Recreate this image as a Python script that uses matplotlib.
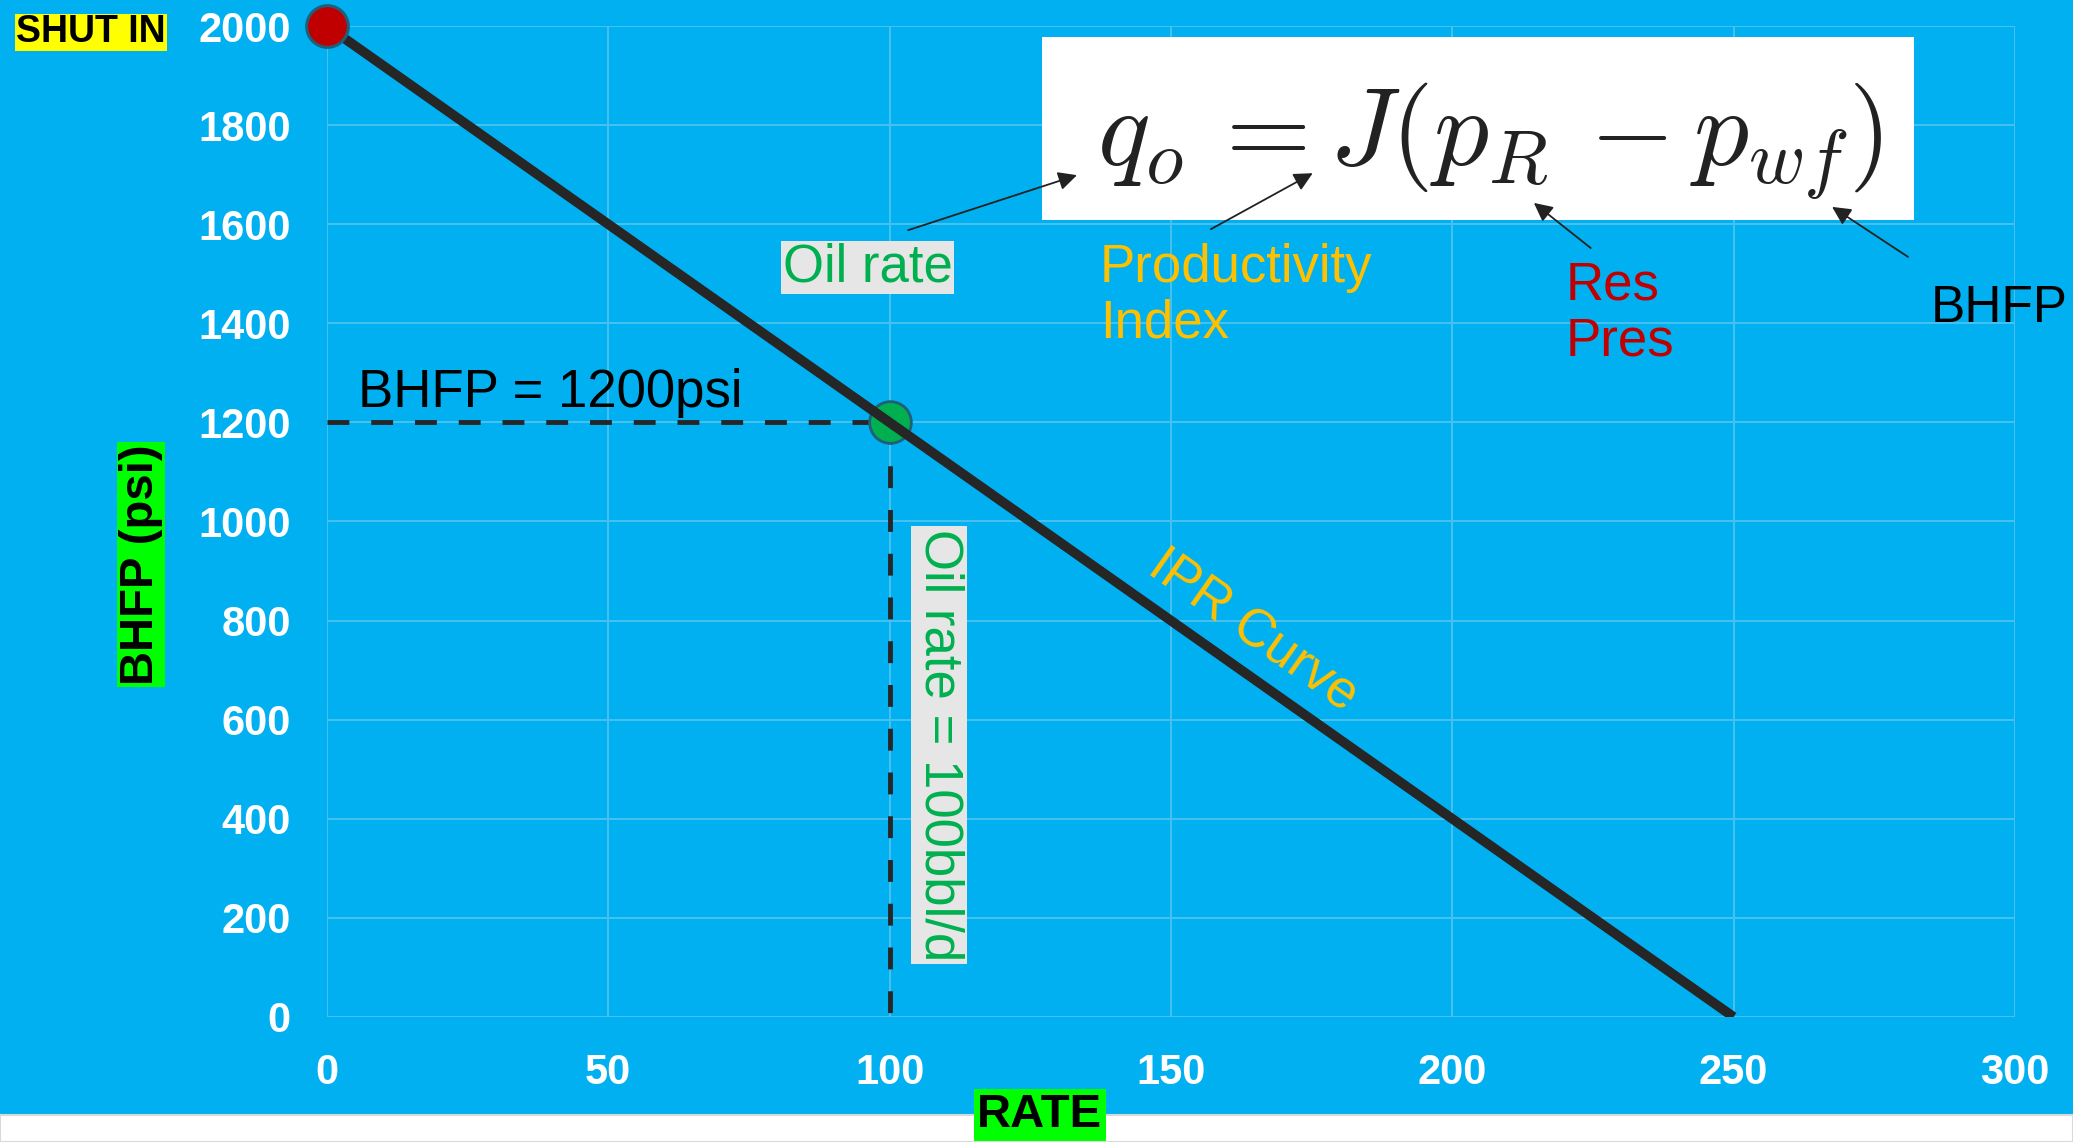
import numpy as np
import matplotlib
matplotlib.use('Agg')
import matplotlib.pyplot as plt
from matplotlib.patches import Rectangle

plt.rcParams['font.family'] = ['Liberation Sans', 'DejaVu Sans']
plt.rcParams['mathtext.fontset'] = 'cm'

# IPR straight line: shut-in pressure and absolute open flow
ipr_rate = [0, 250]
ipr_bhfp = [2000, 0]
# operating point
op_rate = 100
op_bhfp = 1200

xticks = [0, 50, 100, 150, 200, 250, 300]
yticks = [0, 200, 400, 600, 800, 1000, 1200, 1400, 1600, 1800, 2000]

bg = '#00B0F0'
grid_c = '#45C1F1'
line_c = '#262626'
green = '#00B050'
gold = '#FFC000'
red = '#C00000'

fig = plt.figure(figsize=(20.73, 11.42), dpi=100, facecolor=bg)
ax = fig.add_axes([0.1577, 0.1095, 0.9720 - 0.1577, 0.9772 - 0.1095])
ax.set_facecolor(bg)

# white strip along the bottom edge
fig.patches.append(Rectangle((0, 0), 1, 27/1142., transform=fig.transFigure,
                             facecolor='white', edgecolor='#D9D9D9', lw=1.5, zorder=-1))

ax.set_xlim(0, 300)
ax.set_ylim(0, 2000)
ax.set_xticks(xticks)
ax.set_yticks(yticks)
ax.grid(True, color=grid_c, lw=1.5)
ax.set_axisbelow(True)
for s in ax.spines.values():
    s.set_visible(False)
ax.tick_params(length=0, labelcolor='white', labelsize=30, pad=26)
for lab in ax.get_xticklabels() + ax.get_yticklabels():
    lab.set_fontweight('bold')

# dashed guides to the operating point
ax.plot([0, op_rate], [op_bhfp, op_bhfp], color=line_c, lw=3.5, dashes=[4.5, 4.5],
        dash_capstyle='butt', zorder=3)
ax.plot([op_rate, op_rate], [op_bhfp, 0], color=line_c, lw=3.5, dashes=[4.5, 4.5],
        dash_capstyle='butt', zorder=3)

ax.plot(op_rate, op_bhfp, 'o', ms=30, mfc=green, mec='#1F5F7A', mew=2, zorder=4)
ax.plot(ipr_rate, ipr_bhfp, color=line_c, lw=7, solid_capstyle='butt', zorder=5)
ax.plot(ipr_rate[0], ipr_bhfp[0], 'o', ms=30, mfc=red, mec='#1F5F7A', mew=2.2,
        zorder=6, clip_on=False)

# equation panel
ax.add_patch(Rectangle((127.1, 1608.5), 282.0 - 127.1, 1978 - 1608.5,
                       facecolor='white', edgecolor='none', zorder=7))
ax.text(206.7, 1768, r'$q_o\,=J(p_R\,-p_{wf})$', fontsize=79, color='#222222',
        ha='center', va='center', zorder=8)

# labels and callouts
ax.text(5.5, 1231, 'BHFP = 1200psi', fontsize=38, color='black', ha='left',
        va='baseline', zorder=8)
ax.text(96.1, 1512, 'Oil rate', fontsize=38, color=green, ha='center', va='center',
        bbox=dict(boxstyle='square,pad=0.03', fc='#E7E6E6', ec='none'), zorder=8)
ax.text(108.8, 549, 'Oil rate = 100bbl/d', fontsize=38, color=green, rotation=-90,
        ha='center', va='center',
        bbox=dict(boxstyle='square,pad=0.05', fc='#E7E6E6', ec='none'), zorder=8)
ax.text(164.6, 778, 'IPR Curve', fontsize=38, color=gold, rotation=-35.2,
        ha='center', va='center', rotation_mode='anchor', zorder=8)
ax.text(137.4, 1372, 'Productivity\nIndex', fontsize=38, color=gold, ha='left',
        va='baseline', linespacing=1.13, zorder=8)
ax.text(220.2, 1336, 'Res\nPres', fontsize=38, color=red, ha='left',
        va='baseline', linespacing=1.13, zorder=8)
ax.text(285.1, 1402, 'BHFP', fontsize=37, color='black', ha='left', va='baseline',
        zorder=8)

arrows = [((103.3, 1588), (133.3, 1699)),
          ((157.1, 1590), (175.2, 1703)),
          ((224.6, 1552), (214.5, 1643)),
          ((281.0, 1534), (267.5, 1635))]
for start, tip in arrows:
    ax.annotate('', xy=tip, xytext=start,
                arrowprops=dict(arrowstyle='-|>', color='#222222', lw=1.3,
                                mutation_scale=28, shrinkA=0, shrinkB=0),
                zorder=9, annotation_clip=False)

ax.set_ylabel('BHFP (psi)', fontsize=34, fontweight='bold', color='black',
              va='center', ha='center',
              bbox=dict(boxstyle='square,pad=0.05', fc='#00FF00', ec='none'))
ax.yaxis.set_label_coords((141 - 327) / 1688., (1017 - 564.5) / 991.)
ax.set_xlabel('RATE', fontsize=34, fontweight='bold', color='black',
              va='center', ha='center',
              bbox=dict(boxstyle='square,pad=0.08', fc='#00FF00', ec='none'))
ax.xaxis.set_label_coords((1040 - 327) / 1688., (1017 - 1115) / 991.)

fig.text(91 / 2073., 1 - 32.5 / 1142., 'SHUT IN', fontsize=27, fontweight='bold',
         color='black', ha='center', va='center',
         bbox=dict(boxstyle='square,pad=0.02', fc='#FFFF00', ec='none'))

fig.savefig('out.png', dpi=100, facecolor=bg)
